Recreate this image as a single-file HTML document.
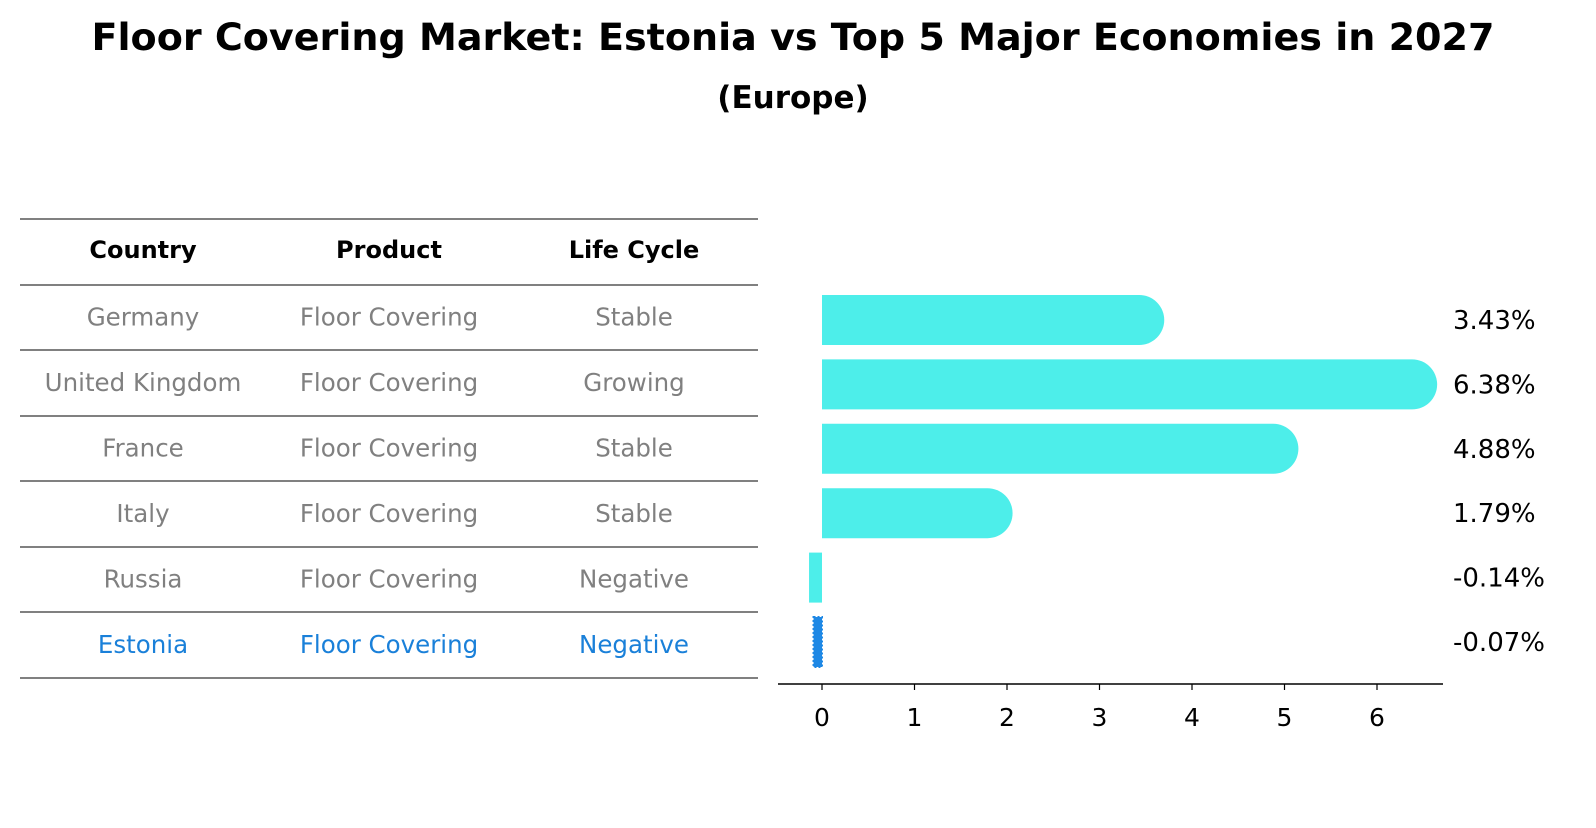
<!DOCTYPE html>
<html><head><meta charset="utf-8"><style>
body{margin:0;background:#fff;font-family:"Liberation Sans","DejaVu Sans",sans-serif;}
</style></head><body>
<svg width="1596" height="823" viewBox="0 0 1596 823" xmlns="http://www.w3.org/2000/svg" font-family="DejaVu Sans, Liberation Sans, sans-serif">
<text x="793" y="50" text-anchor="middle" font-size="37" font-weight="bold" textLength="1403" lengthAdjust="spacingAndGlyphs">Floor Covering Market: Estonia vs Top 5 Major Economies in 2027</text>
<text x="793" y="108" text-anchor="middle" font-size="31" font-weight="bold">(Europe)</text>
<g id="table"></g>
<g id="bars"></g>
</svg>
<script>
const countries=["Germany","United Kingdom","France","Italy","Russia","Estonia"];
const products=["Floor Covering","Floor Covering","Floor Covering","Floor Covering","Floor Covering","Floor Covering"];
const lifecycles=["Stable","Growing","Stable","Stable","Negative","Negative"];
const values=[3.43,6.38,4.88,1.79,-0.14,-0.07];
const ticks=[0,1,2,3,4,5,6];
const NS="http://www.w3.org/2000/svg";
function mk(t,a,p){const e=document.createElementNS(NS,t);for(const k in a)e.setAttribute(k,a[k]);p.appendChild(e);return e;}
const tb=document.getElementById('table');
const lineYs=[219,285,350,416,481,547,612,678];
lineYs.forEach(y=>{const l=mk('line',{x1:20,x2:758,y1:y,y2:y,stroke:'#000','stroke-width':1},tb);

});
const cx=[143,389,634];
["Country","Product","Life Cycle"].forEach((h,i)=>{const t=mk('text',{x:cx[i],y:258,'text-anchor':'middle','font-size':24,'font-weight':'bold'},tb);t.textContent=h;

});
countries.forEach((c,r)=>{const y=(lineYs[r+1]+lineYs[r+2])/2+8;const col=r===5?'#1a80d9':'#808080';
[c,products[r],lifecycles[r]].forEach((v,i)=>{const t=mk('text',{x:cx[i],y:y,'text-anchor':'middle','font-size':24.5,fill:col},tb);t.textContent=v;

});});
const g=document.getElementById('bars');
const x0=822,ppu=92.5;const X=v=>x0+v*ppu;
const rowY=i=>320+i*64.4;const bh=50;
mk('line',{x1:778,x2:1443,y1:684,y2:684,stroke:'#000','stroke-width':1.5},g);
ticks.forEach(t=>{mk('line',{x1:X(t),x2:X(t),y1:684,y2:690,stroke:'#000','stroke-width':1.2},g);
const tx=mk('text',{x:X(t),y:726,'text-anchor':'middle','font-size':25},g);tx.textContent=t;

});
values.forEach((v,i)=>{const yc=rowY(i);let b;
if(i===5){b=mk('rect',{x:Math.min(X(v),x0)-2,y:yc-bh/2,width:Math.abs(X(v)-x0)+2,height:bh,fill:'#1e88e5',stroke:'#1e88e5','stroke-width':2,'stroke-dasharray':'2 2'},g);}
else if(v>=0){const w=X(v)-x0,r=bh/2;
b=mk('path',{d:`M${x0},${yc-r}H${x0+w}A${r},${r} 0 0 1 ${x0+w},${yc+r}H${x0}Z`,fill:'#4deeea'},g);}
else{b=mk('rect',{x:X(v),y:yc-bh/2,width:x0-X(v),height:bh,fill:'#4deeea'},g);}


const t=mk('text',{x:1453,y:yc+9,'font-size':26},g);t.textContent=v.toFixed(2)+'%';

});
</script>
</body></html>
